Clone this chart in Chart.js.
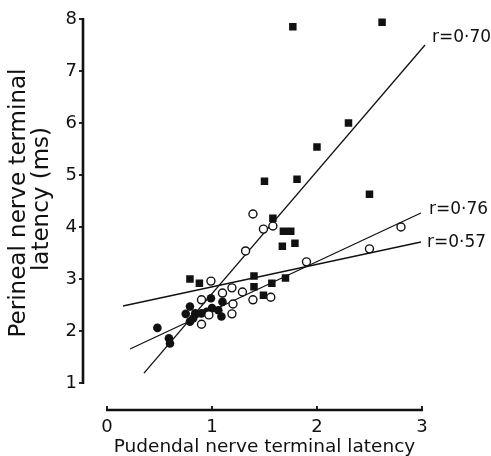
<!DOCTYPE html>
<html>
<head>
<meta charset="utf-8">
<script src="https://cdn.jsdelivr.net/npm/chart.js@4/dist/chart.umd.min.js"></script>
<style>
  html, body { margin: 0; padding: 0; background: #fff; }
  canvas { display: block; }
</style>
</head>
<body>
<canvas id="c" width="491" height="456"></canvas>
<script>
// ---- tick labels ----
const xTickValues = [0, 1, 2, 3];
const yTickValues = [1, 2, 3, 4, 5, 6, 7, 8];

// ---- titles ----
const xTitle = "Pudendal nerve terminal latency";
const yTitleLines = ["Perineal nerve terminal", "latency (ms)"];

// ---- filled squares ----
const squareX = [2.62, 1.77, 2.30, 2.00, 1.50, 1.81, 2.50, 1.58, 1.68, 1.75, 1.67, 1.79, 1.40, 1.40, 1.57, 1.70, 1.49, 0.79, 0.88];
const squareY = [7.94, 7.85, 6.00, 5.54, 4.88, 4.92, 4.63, 4.17, 3.92, 3.92, 3.63, 3.69, 3.06, 2.85, 2.92, 3.02, 2.69, 3.00, 2.92];

// ---- filled circles ----
const dotX = [0.48, 0.59, 0.60, 0.79, 0.75, 0.79, 0.84, 0.90, 0.99, 1.00, 1.06, 1.10, 1.09, 0.95, 0.82];
const dotY = [2.06, 1.86, 1.76, 2.47, 2.33, 2.18, 2.34, 2.34, 2.63, 2.44, 2.40, 2.56, 2.28, 2.37, 2.24];

// ---- open circles ----
const ringX = [1.39, 1.49, 1.58, 1.32, 0.99, 1.19, 1.29, 1.10, 0.90, 1.39, 1.20, 0.97, 1.19, 0.90, 1.56, 1.90, 2.50, 2.80];
const ringY = [4.25, 3.96, 4.02, 3.54, 2.96, 2.83, 2.75, 2.73, 2.60, 2.60, 2.52, 2.31, 2.33, 2.13, 2.65, 3.33, 3.58, 4.00];

// ---- regression lines (end points) and labels ----
const fitLabels = ["r=0·70", "r=0·76", "r=0·57"];
const fit70X = [0.352, 3.029], fit70Y = [1.19, 7.50];
const fit76X = [0.219, 2.990], fit76Y = [1.654, 4.269];
const fit57X = [0.152, 2.990], fit57Y = [2.481, 3.712];

const zip = (xs, ys) => xs.map((x, i) => ({ x: x, y: ys[i] }));
const INK = '#111';
const FONT = '"DejaVu Sans", "Liberation Sans", sans-serif';

function lineDs(xs, ys, label) {
  return { label: label, data: zip(xs, ys), showLine: true, pointRadius: 0,
           borderColor: INK, borderWidth: 1.3, fill: false, order: 10 };
}

const labelOffsets = [[7, -7], [8, -3], [6, 1]];

const decor = {
  id: 'decor',
  afterDatasetsDraw(chart) {
    const ctx = chart.ctx, xs = chart.scales.x, ys = chart.scales.y;
    ctx.save();
    ctx.strokeStyle = INK; ctx.fillStyle = INK;
    // y axis
    const ax = chart.chartArea.left;
    ctx.lineWidth = 2.6; ctx.lineCap = 'butt';
    ctx.beginPath();
    ctx.moveTo(ax, ys.getPixelForValue(yTickValues[yTickValues.length - 1]) - 1);
    ctx.lineTo(ax, ys.getPixelForValue(yTickValues[0]) + 1);
    ctx.stroke();
    ctx.lineWidth = 1.8;
    yTickValues.forEach(v => {
      const p = ys.getPixelForValue(v);
      ctx.beginPath(); ctx.moveTo(ax - 4, p); ctx.lineTo(ax, p); ctx.stroke();
    });
    // x axis
    const ay = chart.chartArea.bottom;
    ctx.lineWidth = 2.6;
    ctx.beginPath();
    ctx.moveTo(xs.getPixelForValue(xTickValues[0]) - 1, ay);
    ctx.lineTo(xs.getPixelForValue(xTickValues[xTickValues.length - 1]) + 1, ay);
    ctx.stroke();
    ctx.lineWidth = 1.8;
    xTickValues.forEach(v => {
      const p = xs.getPixelForValue(v);
      ctx.beginPath(); ctx.moveTo(p, ay); ctx.lineTo(p, ay - 4); ctx.stroke();
    });
    // regression labels
    ctx.font = '17px ' + FONT;
    ctx.textAlign = 'left'; ctx.textBaseline = 'middle';
    [[fit70X, fit70Y], [fit76X, fit76Y], [fit57X, fit57Y]].forEach((f, i) => {
      const px = xs.getPixelForValue(f[0][1]), py = ys.getPixelForValue(f[1][1]);
      ctx.fillText(fitLabels[i], px + labelOffsets[i][0], py + labelOffsets[i][1]);
    });
    // x title
    ctx.font = '18.5px ' + FONT;
    ctx.textAlign = 'center'; ctx.textBaseline = 'alphabetic';
    const cx = (xs.getPixelForValue(xTickValues[0]) + xs.getPixelForValue(xTickValues[xTickValues.length - 1])) / 2;
    ctx.fillText(xTitle, cx, 452);
    // y title
    ctx.font = '23px ' + FONT;
    ctx.translate(0, 203);
    ctx.rotate(-Math.PI / 2);
    ctx.fillText(yTitleLines[0], 0, 25);
    ctx.fillText(yTitleLines[1], 4, 48);
    ctx.restore();
  }
};

new Chart(document.getElementById('c'), {
  type: 'scatter',
  data: {
    datasets: [
      lineDs(fit70X, fit70Y, fitLabels[0]),
      lineDs(fit76X, fit76Y, fitLabels[1]),
      lineDs(fit57X, fit57Y, fitLabels[2]),
      { label: 'filled circles', data: zip(dotX, dotY), pointStyle: 'circle', pointRadius: 4.3,
        backgroundColor: INK, borderColor: INK, borderWidth: 0, order: 3 },
      { label: 'filled squares', data: zip(squareX, squareY), pointStyle: 'rect', pointRadius: 5.3,
        backgroundColor: INK, borderColor: INK, borderWidth: 0, order: 2 },
      { label: 'open circles', data: zip(ringX, ringY), pointStyle: 'circle', pointRadius: 4,
        backgroundColor: '#fff', borderColor: INK, borderWidth: 1.4, order: 1 }
    ]
  },
  options: {
    responsive: false,
    animation: false,
    layout: { padding: { top: 4, right: 1, left: 0, bottom: 0 } },
    plugins: { legend: { display: false }, tooltip: { enabled: false } },
    scales: {
      x: {
        type: 'linear', min: -0.2286, max: 3.606,
        grid: { display: false, drawTicks: false }, border: { display: false },
        afterBuildTicks: s => { s.ticks = xTickValues.map(v => ({ value: v })); },
        afterFit: s => { s.height = 46; s.paddingLeft = 0; s.paddingRight = 0; s.paddingTop = 0; s.paddingBottom = 0; },
        ticks: { color: INK, padding: 7, font: { family: FONT, size: 18 }, callback: v => String(v), maxRotation: 0 }
      },
      y: {
        type: 'linear', min: 0.481, max: 8.262,
        grid: { display: false, drawTicks: false }, border: { display: false },
        afterBuildTicks: s => { s.ticks = yTickValues.map(v => ({ value: v })); },
        afterFit: s => { s.width = 83; s.paddingLeft = 0; s.paddingRight = 0; s.paddingTop = 0; s.paddingBottom = 0; },
        ticks: { color: INK, padding: 6, font: { family: FONT, size: 18 }, callback: v => String(v) }
      }
    }
  },
  plugins: [decor]
});
</script>
</body>
</html>
